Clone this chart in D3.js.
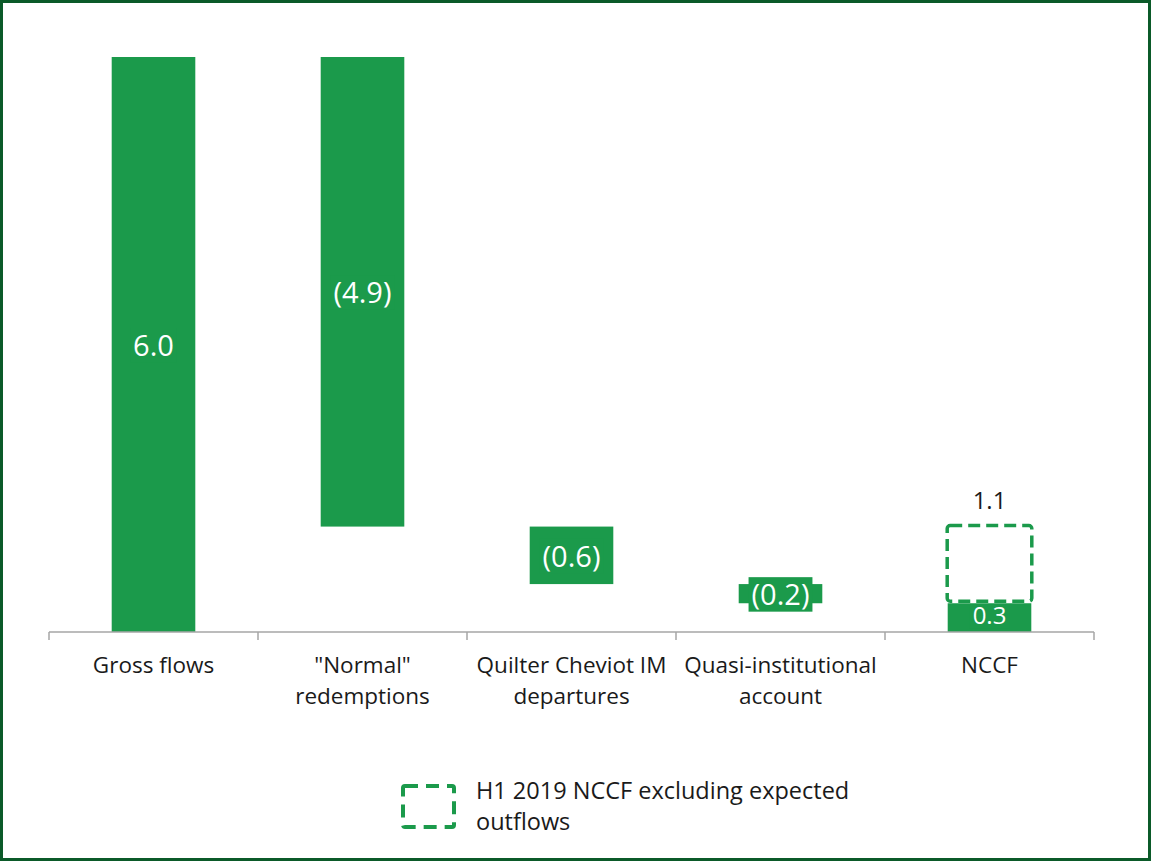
<!DOCTYPE html>
<html>
<head>
<meta charset="utf-8">
<script src="https://cdn.jsdelivr.net/npm/d3@7"></script>
<style>
  html, body { margin: 0; padding: 0; background: #fff; }
  svg { display: block; font-family: "Open Sans", "Noto Sans", sans-serif; }
  .cat-label { font-size: 22.5px; fill: #1a1a1a; }
  .legend-text { font-size: 23.5px; fill: #1a1a1a; }
</style>
</head>
<body>
<div id="chart"></div>
<script>
(function () {
  "use strict";

  // Data
  const categories = ["Gross flows", "\"Normal\" redemptions", "Quilter Cheviot IM departures", "Quasi-institutional account", "NCCF"];
  const catLines   = [["Gross flows"], ["\"Normal\"", "redemptions"], ["Quilter Cheviot IM", "departures"], ["Quasi-institutional", "account"], ["NCCF"]];
  const values     = [6.0, -4.9, -0.6, -0.2, 0.3];
  const isTotal    = [false, false, false, false, true];
  const valueText  = ["6.0", "(4.9)", "(0.6)", "(0.2)", "0.3"];
  const excludingValue = 1.1;   // NCCF excluding expected outflows
  const legendLines = ["H1 2019 NCCF excluding expected", "outflows"];

  // Dimensions
  const totalW = 1151, totalH = 861;
  const x0 = 49, x1 = 1094, baseY = 632, topY = 57;
  const GREEN = "#1b9a4b";
  const BORDER = "#0b5a29";

  // Waterfall rows
  let running = 0;
  const rows = categories.map((cat, i) => {
    let start, end;
    if (isTotal[i]) { start = 0; end = values[i]; }
    else { start = running; end = running + values[i]; }
    running = end;
    return { cat, i, start, end, lo: Math.min(start, end), hi: Math.max(start, end), text: valueText[i] };
  });

  // Scales
  const x = d3.scaleBand().domain(categories).range([x0, x1]).padding(0);
  const barW = x.bandwidth() * 0.4;
  const y = d3.scaleLinear().domain([0, 6]).range([baseY, topY]);

  const svg = d3.select("#chart").append("svg")
    .attr("width", totalW).attr("height", totalH);

  // Frame
  svg.append("rect")
    .attr("x", 1.5).attr("y", 1.5)
    .attr("width", totalW - 3).attr("height", totalH - 3)
    .attr("fill", "#fff").attr("stroke", BORDER).attr("stroke-width", 3);

  // Bars
  svg.selectAll(".bar").data(rows).join("rect")
    .attr("class", "bar")
    .attr("x", d => x(d.cat) + (x.bandwidth() - barW) / 2)
    .attr("width", barW)
    .attr("y", d => y(d.hi))
    .attr("height", d => y(d.lo) - y(d.hi))
    .attr("fill", GREEN);

  // Dashed box for NCCF excluding expected outflows
  const nccf = rows[rows.length - 1];
  svg.append("rect")
    .attr("x", x(nccf.cat) + (x.bandwidth() - barW) / 2 - 0.5)
    .attr("width", barW + 1)
    .attr("y", y(excludingValue) - 1)
    .attr("height", y(nccf.hi) - y(excludingValue) - 1)
    .attr("rx", 3)
    .attr("fill", "none")
    .attr("stroke", GREEN)
    .attr("stroke-width", 3.5)
    .attr("stroke-dasharray", "12 6");

  svg.append("text")
    .attr("x", x(nccf.cat) + x.bandwidth() / 2)
    .attr("y", y(excludingValue) - 27)
    .attr("text-anchor", "middle")
    .attr("dominant-baseline", "central")
    .attr("fill", "#1a1a1a")
    .attr("font-size", 24)
    .text(excludingValue.toFixed(1));

  // Value labels (with green background box)
  const labels = svg.selectAll(".lab").data(rows).join("g")
    .attr("class", "lab")
    .attr("transform", d => `translate(${x(d.cat) + x.bandwidth() / 2},${(y(d.lo) + y(d.hi)) / 2 - (isTotal[d.i] ? 3 : 0)})`);

  labels.append("text")
    .attr("text-anchor", "middle")
    .attr("dominant-baseline", "central")
    .attr("fill", "#fff")
    .attr("font-size", d => isTotal[d.i] ? 24 : 29)
    .text(d => d.text);

  labels.each(function (d) {
    const g = d3.select(this);
    const bb = g.select("text").node().getBBox();
    const shrink = isTotal[d.i] ? 6 : 3;
    g.insert("rect", "text")
      .attr("x", bb.x - 3).attr("y", bb.y + shrink)
      .attr("width", bb.width + 6).attr("height", bb.height - shrink * 1.5)
      .attr("fill", GREEN);
  });

  // Axis
  const axisG = svg.append("g").attr("stroke", "#a6a6a6").attr("stroke-width", 1.5);
  axisG.append("line").attr("x1", x0).attr("x2", x1).attr("y1", baseY).attr("y2", baseY);
  const bounds = categories.map(c => x(c)).concat([x1]);
  axisG.selectAll(".tick").data(bounds).join("line")
    .attr("x1", d => d).attr("x2", d => d)
    .attr("y1", baseY).attr("y2", baseY + 8);

  // Category labels
  svg.selectAll(".cat-label").data(categories).join("text")
    .attr("class", "cat-label")
    .attr("x", d => x(d) + x.bandwidth() / 2)
    .attr("y", baseY + 41)
    .attr("text-anchor", "middle")
    .each(function (d, i) {
      d3.select(this).selectAll("tspan").data(catLines[i]).join("tspan")
        .attr("x", x(d) + x.bandwidth() / 2)
        .attr("dy", (t, j) => j === 0 ? 0 : 31)
        .text(t => t);
    });

  // Legend
  const lg = svg.append("g").attr("transform", "translate(403,786)");
  lg.append("rect")
    .attr("width", 51).attr("height", 41)
    .attr("rx", 2)
    .attr("fill", "none")
    .attr("stroke", GREEN)
    .attr("stroke-width", 4)
    .attr("stroke-dasharray", "13 8");
  legendLines.forEach((t, j) => {
    lg.append("text")
      .attr("class", "legend-text")
      .attr("x", 73)
      .attr("y", 5 + j * 31)
      .attr("dy", "0.35em")
      .text(t);
  });
})();
</script>
</body>
</html>
